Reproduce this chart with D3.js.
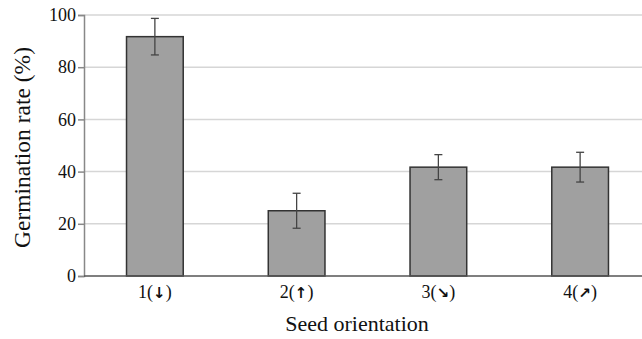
<!DOCTYPE html>
<html>
<head>
<meta charset="utf-8">
<script src="https://cdn.jsdelivr.net/npm/d3@7"></script>
<style>
  html, body { margin: 0; padding: 0; background: #fff; }
  svg { display: block; }
  text { font-family: "Liberation Serif", "Times New Roman", serif; fill: #111; }
</style>
</head>
<body>
<svg id="chart" width="642" height="339"></svg>
<script>
// Germination rate by seed orientation
const categories = ["1", "2", "3", "4"];
const arrows = ["\u2193", "\u2191", "\u2198", "\u2197"];
const rates = [91.7, 25.0, 41.7, 41.7];
const errors = [7.0, 6.7, 4.8, 5.7];
const yTicks = [0, 20, 40, 60, 80, 100];

const serif = "'Liberation Serif', 'Times New Roman', serif";
const svg = d3.select("#chart");
const margin = { left: 84, top: 15, bottom: 63 };
const plotRight = 651;
const height = 339;

const x = d3.scaleBand().domain(categories).range([margin.left, plotRight]).paddingInner(0.6).paddingOuter(0.3);
const y = d3.scaleLinear().domain([0, 100]).range([height - margin.bottom, margin.top]);

// horizontal grid
svg.append("g").selectAll("line").data(yTicks.filter(d => d > 0)).join("line")
  .attr("x1", margin.left).attr("x2", 642)
  .attr("y1", d => y(d)).attr("y2", d => y(d))
  .attr("stroke", "#d6d6d6").attr("stroke-width", 1.5);

// bars
svg.append("g").selectAll("rect").data(categories).join("rect")
  .attr("x", d => x(d))
  .attr("y", (d, i) => y(rates[i]))
  .attr("width", x.bandwidth())
  .attr("height", (d, i) => y(0) - y(rates[i]))
  .attr("fill", "#a0a0a0").attr("stroke", "#333").attr("stroke-width", 1.5);

// error bars
const eb = svg.append("g").attr("stroke", "#444").attr("stroke-width", 1.3);
categories.forEach((c, i) => {
  const cx = x(c) + x.bandwidth() / 2;
  const top = y(rates[i] + errors[i]);
  const bot = y(rates[i] - errors[i]);
  eb.append("line").attr("x1", cx).attr("x2", cx).attr("y1", top).attr("y2", bot);
  eb.append("line").attr("x1", cx - 4).attr("x2", cx + 4).attr("y1", top).attr("y2", top);
  eb.append("line").attr("x1", cx - 4).attr("x2", cx + 4).attr("y1", bot).attr("y2", bot);
});

// y axis
const yAxis = svg.append("g").attr("transform", `translate(${margin.left},0)`)
  .call(d3.axisLeft(y).tickValues(yTicks).tickSize(6).tickPadding(2))
  .attr("font-family", serif).attr("font-size", 18);
yAxis.select(".domain").attr("stroke", "#888").attr("stroke-width", 1.5);
yAxis.selectAll(".tick line").attr("stroke", "#888").attr("stroke-width", 1.5);
yAxis.selectAll(".tick text").attr("fill", "#111");

// x axis with orientation arrows in the tick labels
const xAxis = svg.append("g").attr("transform", `translate(0,${y(0)})`)
  .call(d3.axisBottom(x).tickSize(0).tickPadding(9))
  .attr("font-family", serif).attr("font-size", 18);
xAxis.select(".domain").attr("d", `M${margin.left},0H642`).attr("stroke", "#555").attr("stroke-width", 1.5);
xAxis.selectAll(".tick text").attr("fill", "#111").each(function(d, i) {
  const t = d3.select(this).text(null);
  t.append("tspan").text(d + "(");
  t.append("tspan").style("font-family", "'DejaVu Sans', sans-serif").style("font-weight", "bold")
    .style("font-size", "15px").text(arrows[i]);
  t.append("tspan").text(")");
});

// axis titles
svg.append("text")
  .attr("transform", `translate(30,${(y(0) + y(100)) / 2 + 2}) rotate(-90)`)
  .attr("text-anchor", "middle")
  .style("font-size", "23.5px")
  .text("Germination rate (%)");

svg.append("text")
  .attr("x", 357).attr("y", 331)
  .attr("text-anchor", "middle")
  .style("font-size", "22px")
  .text("Seed orientation");
</script>
</body>
</html>
